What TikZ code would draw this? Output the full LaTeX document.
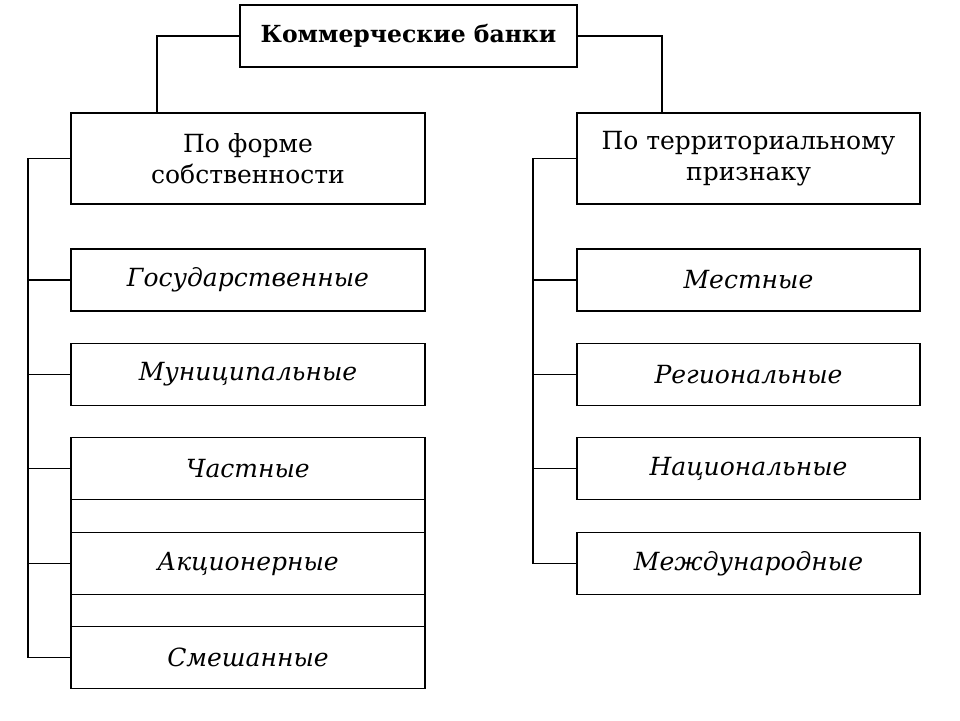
\documentclass[tikz,border=0pt]{standalone}
\usepackage{fontspec}
\setmainfont{DejaVu Serif}
\begin{document}
\begin{tikzpicture}[x=1pt,y=-1pt,
  box/.style={draw, line width=1.8pt, outer sep=0pt, minimum width=354pt, minimum height=62pt, inner sep=0pt, font=\fontsize{25}{29}\selectfont\itshape},
  hbox/.style={draw, line width=1.8pt, outer sep=0pt, inner sep=0pt, align=center, font=\fontsize{25}{31}\selectfont},
  conn/.style={line width=1.8pt}]
\useasboundingbox (0,0) rectangle (960,720);
\node[hbox, minimum width=337pt, minimum height=62pt, font=\fontsize{23.5}{28}\selectfont\bfseries] (top) at (408.5,36) {Коммерческие банки};
\node[hbox, minimum width=354pt, minimum height=91pt] (lh) at (248,158.5) {По форме\\собственности};
\node[hbox, minimum width=343pt, minimum height=91pt] (rh) at (748.5,158.5) {По территориальному\\признаку};
% left column
\node[box] (l1) at (248,280) {Государственные};
\node[box] (l2) at (248,374.5) {Муниципальные};
\node[box] (l3) at (248,468.5) {Частные};
\node[box] (l4) at (248,563.5) {Акционерные};
\node[box] (l5) at (248,657.5) {Смешанные};
% right column
\node[box, minimum width=343pt] (r1) at (748.5,280) {Местные};
\node[box, minimum width=343pt] (r2) at (748.5,374.5) {Региональные};
\node[box, minimum width=343pt] (r3) at (748.5,468.5) {Национальные};
\node[box, minimum width=343pt] (r4) at (748.5,563.5) {Международные};
% top connectors
\coordinate (lx) at (157,0);
\coordinate (rx) at (662,0);
\draw[conn] (top.west) -| (lh.north -| lx);
\draw[conn] (top.east) -| (rh.north -| rx);
% left bus
\coordinate (lb) at (28,0);
\draw[conn] (lh.west) -- (lh.west -| lb) -- (l5.west -| lb) -- (l5.west);
\foreach \n in {l1,l2,l3,l4} \draw[conn] (\n.west -| lb) -- (\n.west);
% right bus
\coordinate (rb) at (533,0);
\draw[conn] (rh.west) -- (rh.west -| rb) -- (r4.west -| rb) -- (r4.west);
\foreach \n in {r1,r2,r3} \draw[conn] (\n.west -| rb) -- (\n.west);
% joined sides of grouped boxes
\draw[conn] (l3.south west) -- (l4.north west);
\draw[conn] (l3.south east) -- (l4.north east);
\draw[conn] (l4.south west) -- (l5.north west);
\draw[conn] (l4.south east) -- (l5.north east);
\end{tikzpicture}
\end{document}
